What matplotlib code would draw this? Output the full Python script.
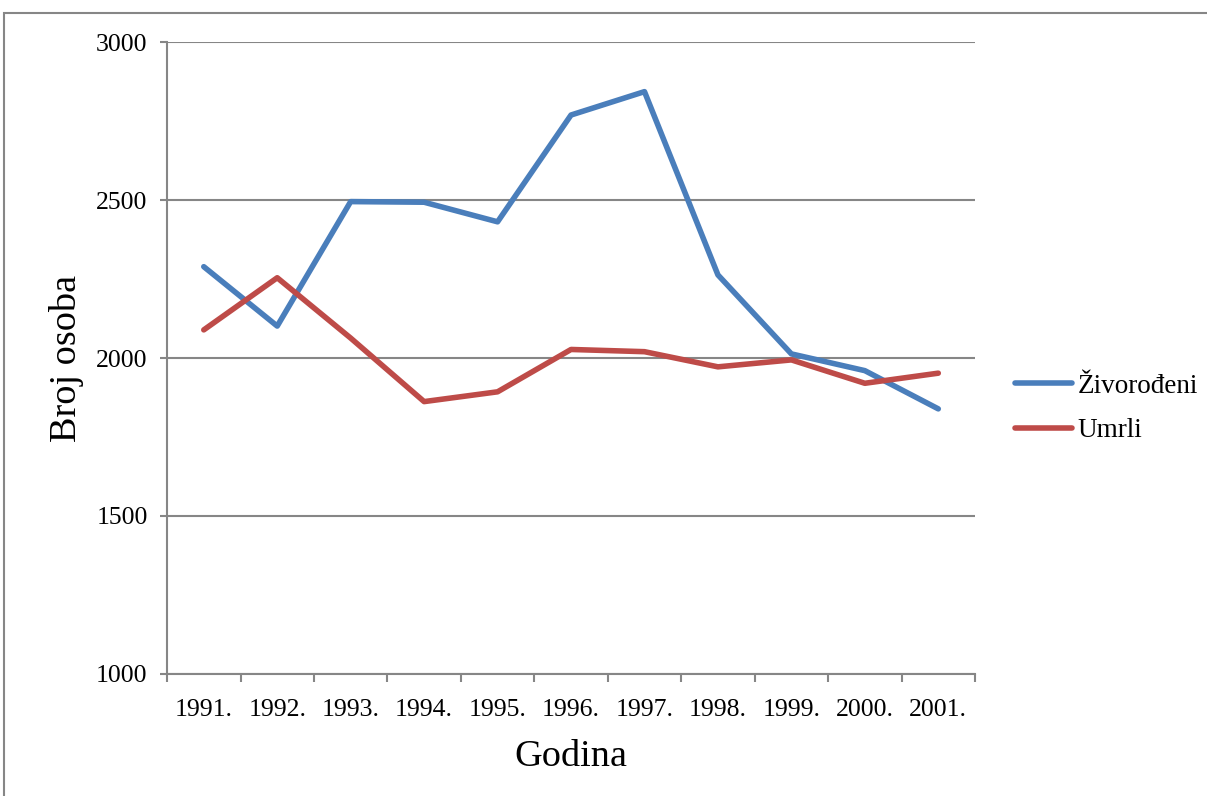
import numpy as np
import matplotlib.pyplot as plt
from matplotlib.patches import Rectangle

years = ['1991.', '1992.', '1993.', '1994.', '1995.', '1996.', '1997.',
         '1998.', '1999.', '2000.', '2001.']
zivorodeni = [2289, 2101, 2495, 2493, 2431, 2769, 2843, 2263, 2013, 1960, 1839]
umrli = [2089, 2254, 2063, 1862, 1893, 2027, 2020, 1972, 1994, 1920, 1952]

plt.rcParams['font.family'] = ['Liberation Serif', 'DejaVu Serif']
grey = '#868686'

fig = plt.figure(figsize=(12.07, 7.96), dpi=100)
ax = fig.add_axes([0.1384, 0.1533, 0.6694, 0.7939])

x = np.arange(len(years))
ax.plot(x, zivorodeni, color='#4A7EBB', lw=4, solid_capstyle='round',
        solid_joinstyle='round', label='Živorođeni')
ax.plot(x, umrli, color='#BE4B48', lw=4, solid_capstyle='round',
        solid_joinstyle='round', label='Umrli')

ax.set_xlim(-0.5, len(years) - 0.5)
ax.set_ylim(1000, 3000)
ax.set_yticks([1000, 1500, 2000, 2500, 3000])
ax.set_xticks(x)
ax.set_xticklabels(years)
ax.set_xticks(np.arange(-0.5, len(years)), minor=True)

ax.grid(axis='y', color=grey, lw=1.5)
ax.set_axisbelow(True)
for s in ['top', 'right']:
    ax.spines[s].set_visible(False)
for s in ['left', 'bottom']:
    ax.spines[s].set_color(grey)
    ax.spines[s].set_linewidth(1.5)

ax.tick_params(axis='y', direction='out', length=5, width=1.5, color=grey,
               labelsize=18.5, pad=9)
ax.tick_params(axis='x', which='major', length=0, labelsize=18.5, pad=18)
ax.tick_params(axis='x', which='minor', direction='out', length=6,
               width=1.5, color=grey)

ax.set_xlabel('Godina', fontsize=27.5, labelpad=13)
ax.set_ylabel('Broj osoba', fontsize=27.5, labelpad=9)

ax.legend(loc='center left', bbox_to_anchor=(0.841, 0.487),
          bbox_transform=fig.transFigure, frameon=False, fontsize=19.5,
          handlelength=2.1, handletextpad=0.2, labelspacing=0.72,
          borderpad=0, borderaxespad=0)

fig.patches.append(Rectangle((4 / 1207, -0.1), 1.2, 1.1 - 13 / 796,
                             transform=fig.transFigure, fill=False,
                             ec=grey, lw=1.5))

fig.savefig('out.png', dpi=100)
